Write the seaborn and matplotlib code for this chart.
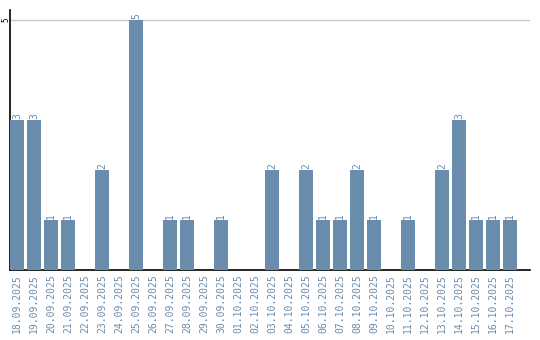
import matplotlib
matplotlib.use("Agg")
import matplotlib.pyplot as plt
import seaborn as sns
import pandas as pd

dates = ["18.09.2025", "19.09.2025", "20.09.2025", "21.09.2025", "22.09.2025",
         "23.09.2025", "24.09.2025", "25.09.2025", "26.09.2025", "27.09.2025",
         "28.09.2025", "29.09.2025", "30.09.2025", "01.10.2025", "02.10.2025",
         "03.10.2025", "04.10.2025", "05.10.2025", "06.10.2025", "07.10.2025",
         "08.10.2025", "09.10.2025", "10.10.2025", "11.10.2025", "12.10.2025",
         "13.10.2025", "14.10.2025", "15.10.2025", "16.10.2025", "17.10.2025"]
counts = [3, 3, 1, 1, 0, 2, 0, 5, 0, 1, 1, 0, 1, 0, 0,
          2, 0, 2, 1, 1, 2, 1, 0, 1, 0, 2, 3, 1, 1, 1]

sns.set_style("white")
plt.rcParams['font.family'] = ['DejaVu Sans Mono', 'DejaVu Sans']

bar_color = "#6a8cad"
text_color = "#6a8cad"

df = pd.DataFrame({"date": dates, "count": counts})

fig = plt.figure(figsize=(5.4, 3.4), dpi=100)
ax = fig.add_axes([10/540, 70/340, 520/540, 260/340])
sns.barplot(data=df, x="date", y="count", color=bar_color, width=0.82,
            saturation=1, linewidth=0, ax=ax, zorder=3)

for i, v in enumerate(counts):
    if v > 0:
        ax.annotate(str(v), (i, v), xytext=(0, 1), textcoords="offset points",
                    rotation=90, ha="center", va="bottom", fontsize=7,
                    color=text_color)

ax.set_xlim(-0.41, 30.17)
ax.set_ylim(0, 5.2)
ax.set_yticks([5])
ax.set_yticklabels(["5"], rotation=90, va="center", ha="center", fontsize=5.5,
                   color="black")
ax.tick_params(axis="y", length=0, pad=3)
ax.axhline(5, color="#c8c8c8", lw=1, zorder=1)
ax.set_xticks(range(len(dates)))
ax.set_xticklabels(dates, rotation=90, fontsize=7, color=text_color)
ax.tick_params(axis="x", length=0, pad=3)
ax.set_xlabel("")
ax.set_ylabel("")
for s in ["top", "right"]:
    ax.spines[s].set_visible(False)
for s in ["left", "bottom"]:
    ax.spines[s].set_color("black")
    ax.spines[s].set_linewidth(1.2)

fig.savefig("out.png", dpi=100)
